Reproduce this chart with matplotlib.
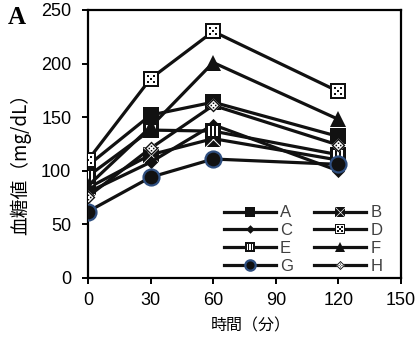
import numpy as np
import matplotlib
matplotlib.use("Agg")
import matplotlib.pyplot as plt
from matplotlib.path import Path
from matplotlib.legend_handler import HandlerTuple

# ---------------- data ----------------
times = [0, 30, 60, 120]
series_names = ["A", "B", "C", "D", "E", "F", "G", "H"]
A = [105, 152, 164, 132]
B = [84, 115, 130, 110]
C = [80, 108, 143, 100]
D = [110, 186, 230, 174]
E = [95, 138, 137, 115]
F = [86, 141, 201, 148]
G = [62, 94, 111, 106]
H = [76, 121, 161, 124]
values = [A, B, C, D, E, F, G, H]
xticks = [0, 30, 60, 90, 120, 150]
yticks = [0, 50, 100, 150, 200, 250]

# ---------------- marker paths ----------------
def rect(x0, y0, x1, y1, ccw=True):
    v = [(x0, y0), (x1, y0), (x1, y1), (x0, y1)]
    if not ccw:
        v = v[::-1]
    return v + [v[0]], [Path.MOVETO, Path.LINETO, Path.LINETO, Path.LINETO, Path.CLOSEPOLY]

def diamond(r, ccw=True):
    v = [(0, -r), (r, 0), (0, r), (-r, 0)]
    if not ccw:
        v = v[::-1]
    return v + [v[0]], [Path.MOVETO, Path.LINETO, Path.LINETO, Path.LINETO, Path.CLOSEPOLY]

def compound(parts):
    verts, codes = [], []
    for v, c in parts:
        verts += v
        codes += c
    return Path(verts, codes)

sq_full = compound([rect(-1, -1, 1, 1)])
dm_full = compound([diamond(1)])

# D: white square, black border and dots
d_parts = [rect(-1, -1, 1, 1), rect(-0.78, -0.78, 0.78, 0.78, ccw=False)]
for (cx, cy) in [(-0.38, 0.38), (0.38, 0.38), (-0.38, -0.38), (0.38, -0.38), (0.0, 0.0)]:
    s = 0.12
    d_parts.append(rect(cx - s, cy - s, cx + s, cy + s))
d_pat = compound(d_parts)

# E: black square with white vertical stripes
e_parts = [rect(-1, -1, 1, 1)]
for (x0, x1) in [(-0.58, -0.32), (-0.13, 0.13), (0.32, 0.58)]:
    e_parts.append(rect(x0, -0.62, x1, 0.62, ccw=False))
e_pat = compound(e_parts)

# B: black square with white diagonal lines (overlay drawn white)
w = 0.09
b_pat = compound([
    ([(-1, -1), (-1 + w, -1), (1, 1 - w), (1, 1), (1 - w, 1), (-1, -1 + w), (-1, -1)],
     [Path.MOVETO] + [Path.LINETO] * 5 + [Path.CLOSEPOLY]),
    ([(1, -1), (1, -1 + w), (-1 + w, 1), (-1, 1), (-1, 1 - w), (1 - w, -1), (1, -1)],
     [Path.MOVETO] + [Path.LINETO] * 5 + [Path.CLOSEPOLY]),
])

# H: white diamond with black border and dotted center
h_parts = [diamond(1), diamond(0.72, ccw=False)]
for (cx, cy) in [(0, 0.32), (0, -0.32), (0.32, 0), (-0.32, 0)]:
    s = 0.11
    h_parts.append(rect(cx - s, cy - s, cx + s, cy + s))
h_pat = compound(h_parts)

K = "#111111"
LW = 2.3
SQ = 11.5
styles = {
    "A": dict(base=sq_full, face=K, edge=K, mew=0, over=None, oc=None, ms=SQ),
    "B": dict(base=sq_full, face=K, edge=K, mew=0, over=b_pat, oc="white", ms=SQ),
    "C": dict(base=dm_full, face=K, edge=K, mew=0, over=None, oc=None, ms=9.5),
    "D": dict(base=sq_full, face="white", edge="white", mew=0, over=d_pat, oc=K, ms=SQ),
    "E": dict(base=sq_full, face="white", edge="white", mew=0, over=e_pat, oc=K, ms=SQ),
    "F": dict(base="^", face=K, edge=K, mew=0, over=None, oc=None, ms=12),
    "G": dict(base="o", face=K, edge="#2f4f80", mew=1.6, over=None, oc=None, ms=11.5),
    "H": dict(base=dm_full, face="white", edge="white", mew=0, over=h_pat, oc=K, ms=10),
}

# ---------------- figure ----------------
plt.rcParams["font.family"] = ["Liberation Sans", "DejaVu Sans"]
fig = plt.figure(figsize=(4.18, 3.38), dpi=100)
ax = fig.add_axes([88 / 418, 1 - 278 / 338, 313 / 418, 268 / 338])

handles = {}
for name, vals in zip(series_names, values):
    st = styles[name]
    base, = ax.plot(times, vals, color=K, lw=LW, marker=st["base"], ms=st["ms"],
                    mfc=st["face"], mec=st["edge"], mew=st["mew"], zorder=3)
    parts = [base]
    if st["over"] is not None:
        ov, = ax.plot(times, vals, ls="none", marker=st["over"], ms=st["ms"],
                      mfc=st["oc"], mec=st["oc"], mew=0, zorder=3)
        parts.append(ov)
    handles[name] = tuple(parts)

ax.set_xlim(0, 150)
ax.set_ylim(0, 250)
ax.set_xticks(xticks)
ax.set_yticks(yticks)
for sp in ax.spines.values():
    sp.set_linewidth(1.6)
    sp.set_color("black")
ax.tick_params(direction="out", length=4, width=1.4, labelsize=13, colors="black")
ax.tick_params(axis="x", pad=6)
ax.tick_params(axis="y", pad=8)

# legend filled column-wise -> order so rows read A B / C D / E F / G H
leg_order = ["A", "C", "E", "G", "B", "D", "F", "H"]
leg = ax.legend([handles[n] for n in leg_order], leg_order, ncol=2, loc="lower right",
                bbox_to_anchor=(0.94, 0.015), frameon=False, borderpad=0,
                borderaxespad=0, handlelength=3.1, handletextpad=0.25,
                columnspacing=1.3, labelspacing=0.17, numpoints=1,
                markerscale=0.65, fontsize=12,
                handler_map={tuple: HandlerTuple(ndivide=1, pad=0)})
for t in leg.get_texts():
    t.set_color("#404040")

cjk = ["Noto Sans CJK JP", "DejaVu Sans"]
fig.text(21 / 418, 1 - 159 / 338, "血糖値（mg/dL）", rotation=90, ha="center", va="center",
         fontsize=13.5, family=cjk)
fig.text(251 / 418, 1 - 326 / 338, "時間（分）", ha="center", va="center",
         fontsize=11.5, family=cjk)
fig.text(17 / 418, 1 - 17 / 338, "A", ha="center", va="center", fontsize=18,
         fontweight="bold", family=["Liberation Serif", "DejaVu Serif"])

fig.savefig("out.png", dpi=100)
